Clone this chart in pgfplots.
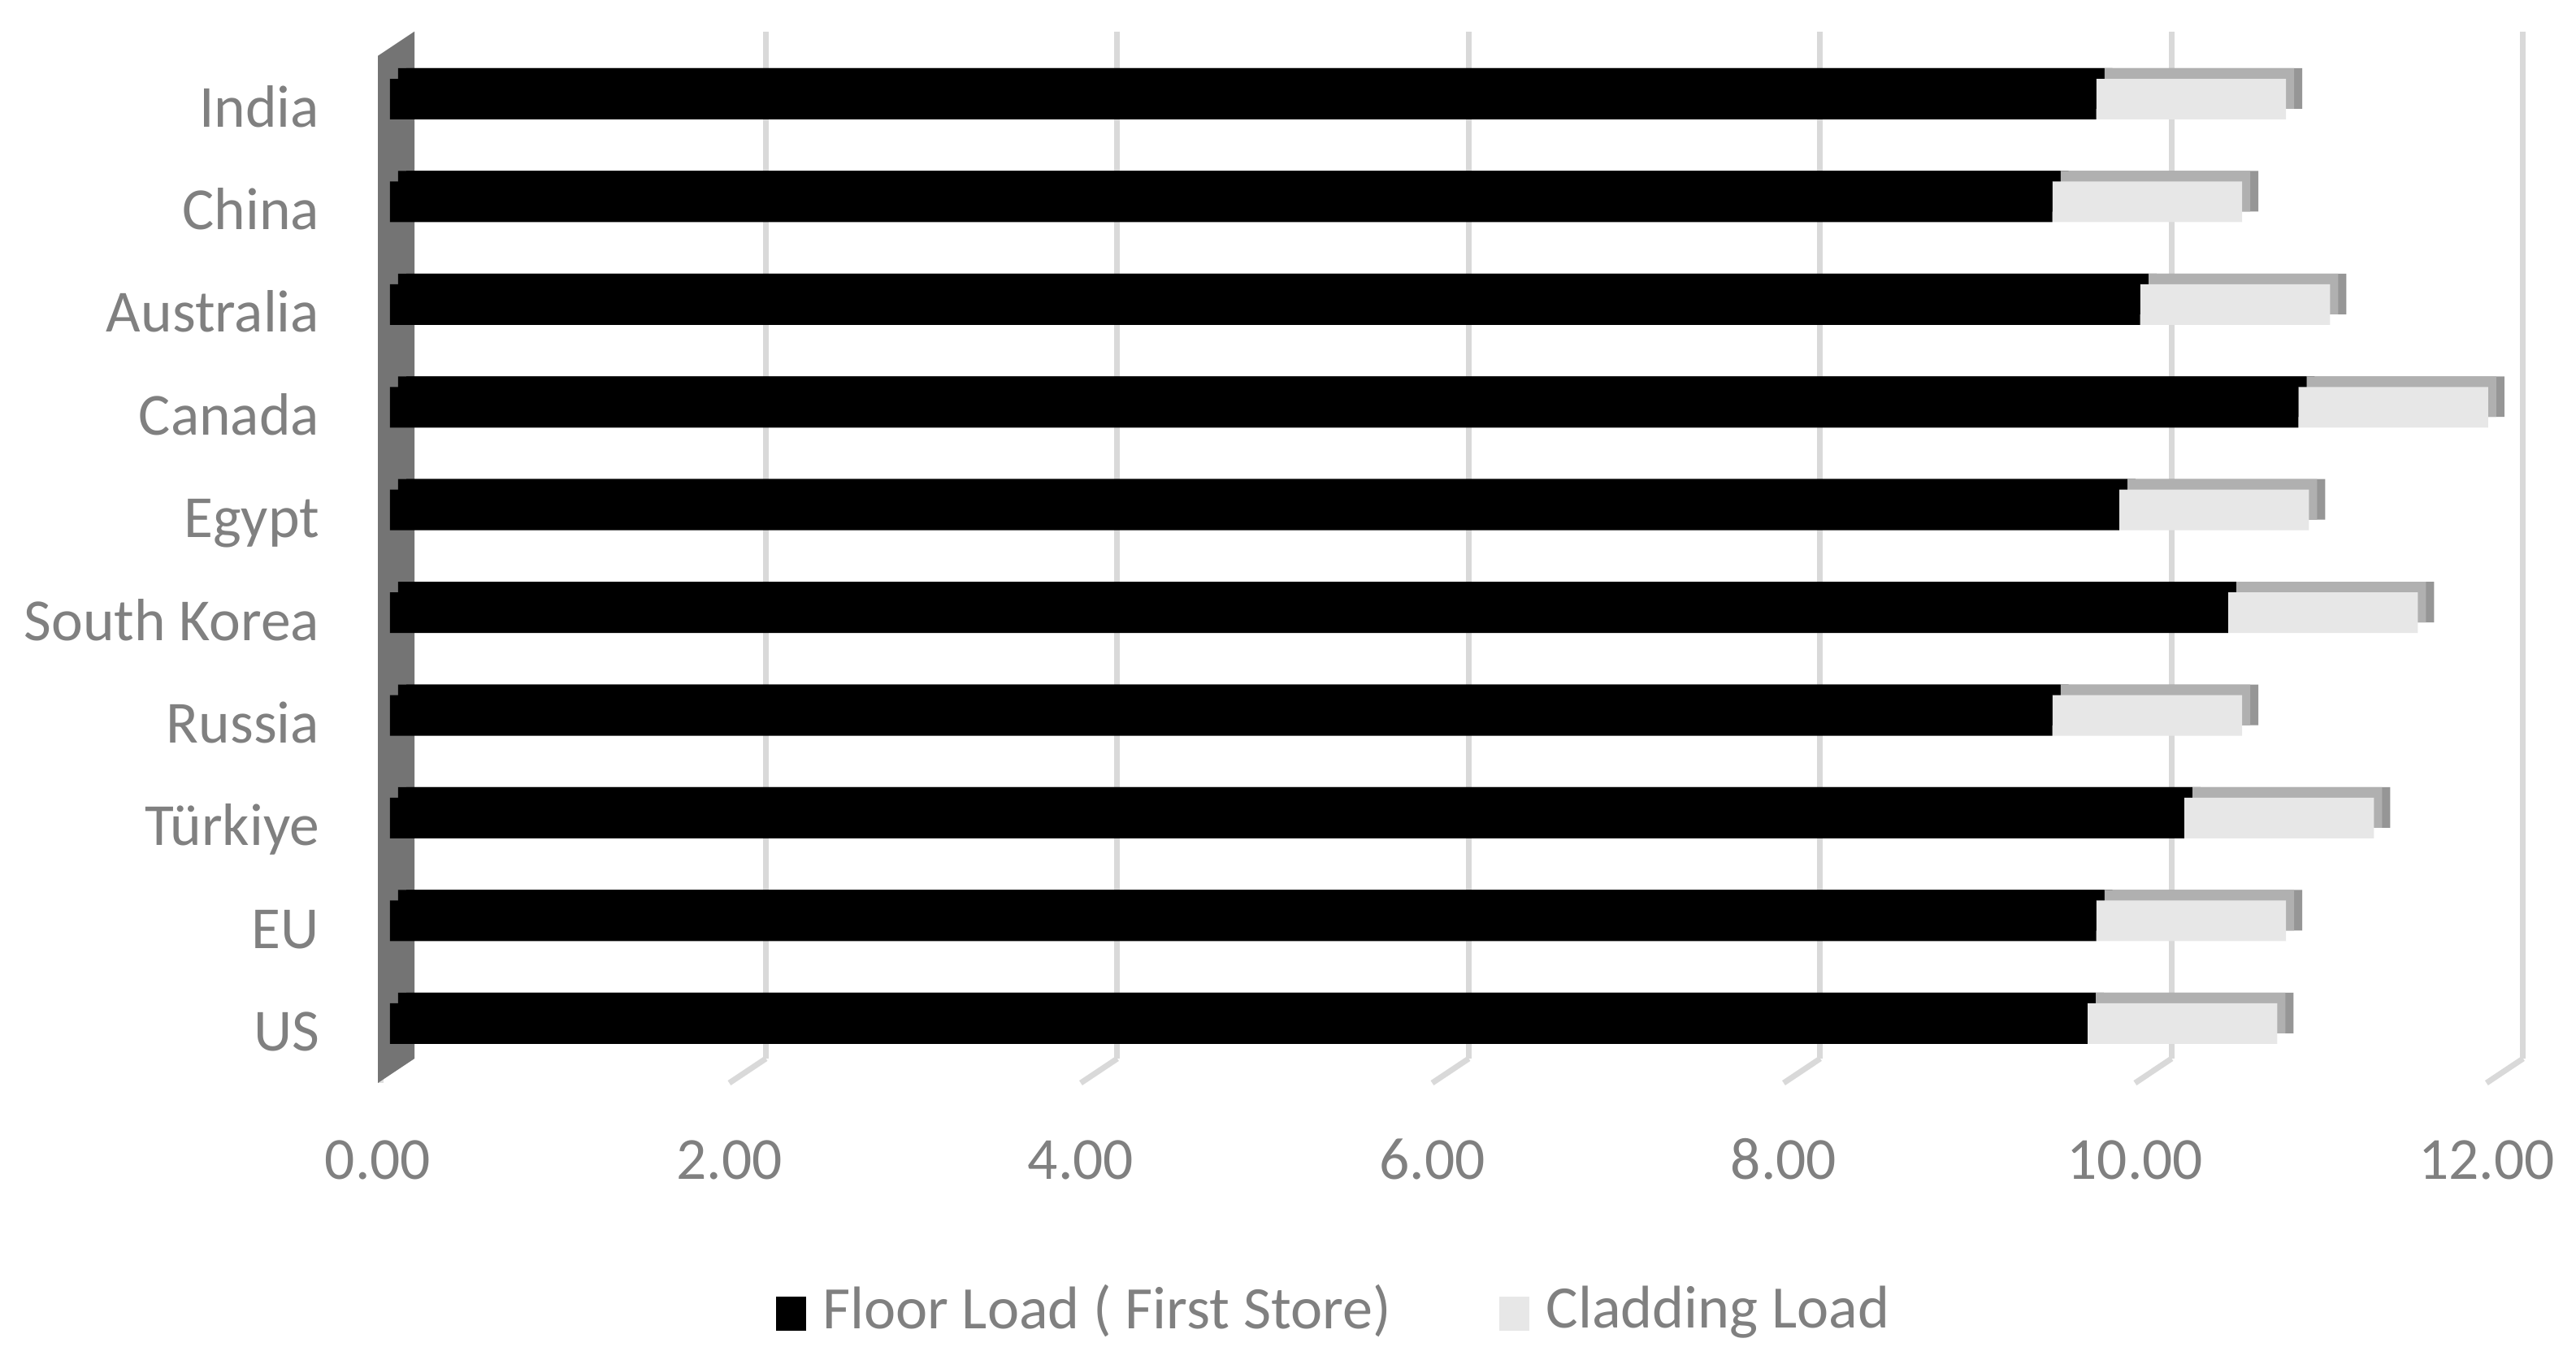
\documentclass[border=0pt]{standalone}
\usepackage{fontspec}
\setmainfont{Carlito}
\usepackage{pgfplots}
\usepackage{pgfplotstable}
\pgfplotsset{compat=1.18}

\definecolor{txt}{HTML}{808080}
\definecolor{clad}{HTML}{E7E7E7}
\definecolor{cladtop}{HTML}{B0B0B0}
\definecolor{cladside}{HTML}{969696}
\definecolor{gridc}{HTML}{D9D9D9}
\definecolor{wall}{HTML}{747474}

% y: 0 = US ... 9 = India
\pgfplotstableread{
y floor clad
0 9.66 1.08
1 9.71 1.08
2 10.21 1.08
3 9.46 1.08
4 10.46 1.08
5 9.84 1.08
6 10.86 1.08
7 9.96 1.08
8 9.46 1.08
9 9.71 1.08
}\loads

\pgfplotsset{
  base/.style={
    scale only axis, width=370.7pt, height=180.6pt,
    xmin=0, xmax=12, ymin=-0.5, ymax=9.5,
    xbar stacked, bar width=7.14pt,
    clip=false,
  },
}

\begin{document}
\begin{tikzpicture}
\useasboundingbox (-68.57pt,-50.14pt) rectangle (384.29pt,189pt);

% back plane: gridlines and side wall
\begin{axis}[base, at={(4.29pt,2.86pt)},
    axis line style={draw=none}, tick style={draw=none},
    xtick={2,4,6,8,10,12}, xticklabels={}, ytick=\empty,
    xmajorgrids, grid style={gridc, line width=1pt}]
  \pgfplotsinvokeforeach{2,4,6,8,10,12}{
    \draw[gridc, line width=1pt] (axis cs:#1,-0.5) -- ++(-6.43pt,-4.29pt);
  }
  \fill[wall] (axis cs:0,-0.5) -- (axis cs:0,9.5) -- ++(-6.43pt,-4.29pt)
    -- ([shift={(-6.43pt,-4.29pt)}]axis cs:0,-0.5) -- cycle;
  \draw[gray!25, line width=1pt] ([shift={(-5.9pt,-4.29pt)}]axis cs:0,9.5)
    -- ([shift={(-5.9pt,-4.29pt)}]axis cs:0,-0.5);
\end{axis}

% bar depth: side face
\begin{axis}[base, at={(2.86pt,1.86pt)}, hide axis]
  \addplot[fill=black, draw=none] table[x=floor, y=y] {\loads};
  \addplot[fill=cladside, draw=none] table[x=clad, y=y] {\loads};
\end{axis}

% bar depth: top face
\begin{axis}[base, at={(1.43pt,1.86pt)}, hide axis]
  \addplot[fill=black, draw=none] table[x=floor, y=y] {\loads};
  \addplot[fill=cladtop, draw=none] table[x=clad, y=y] {\loads};
\end{axis}

% front faces, labels, legend
\begin{axis}[base, at={(0,0)},
    axis line style={draw=none}, tick style={draw=none},
    xtick={0,2,...,12}, ytick={0,...,9},
    yticklabels={US, EU, Türkiye, Russia, South Korea, Egypt, Canada, Australia, China, India},
    ticklabel style={font=\fontsize{10.5}{12.6}\selectfont, text=txt},
    xticklabel style={anchor=base, xshift=-2.14pt, yshift=-18.4pt},
    yticklabel style={anchor=base east, xshift=-8.9pt, yshift=-4.86pt},
    /pgf/number format/fixed, /pgf/number format/fixed zerofill,
    /pgf/number format/precision=2, /pgf/number format/assume math mode=true,
    legend columns=2,
    legend image code/.code={\fill[#1] (0pt,-3.5pt) rectangle (5.3pt,2.5pt);},
    legend style={draw=none, fill=none, at={(axis description cs:0.44,0)},
      anchor=center, xshift=2.6pt, yshift=-41.5pt,
      font=\fontsize{10.6}{12.6}\selectfont, text=txt,
      nodes={inner sep=0pt},
      /tikz/every odd column/.append style={column sep=2.9pt},
      /tikz/every even column/.append style={column sep=19pt}},
  ]
  \addplot[fill=black, draw=none] table[x=floor, y=y] {\loads};
  \addlegendentry{Floor Load ( First Store)}
  \addplot[fill=clad, draw=none] table[x=clad, y=y] {\loads};
  \addlegendentry{Cladding Load}
\end{axis}
\end{tikzpicture}
\end{document}
